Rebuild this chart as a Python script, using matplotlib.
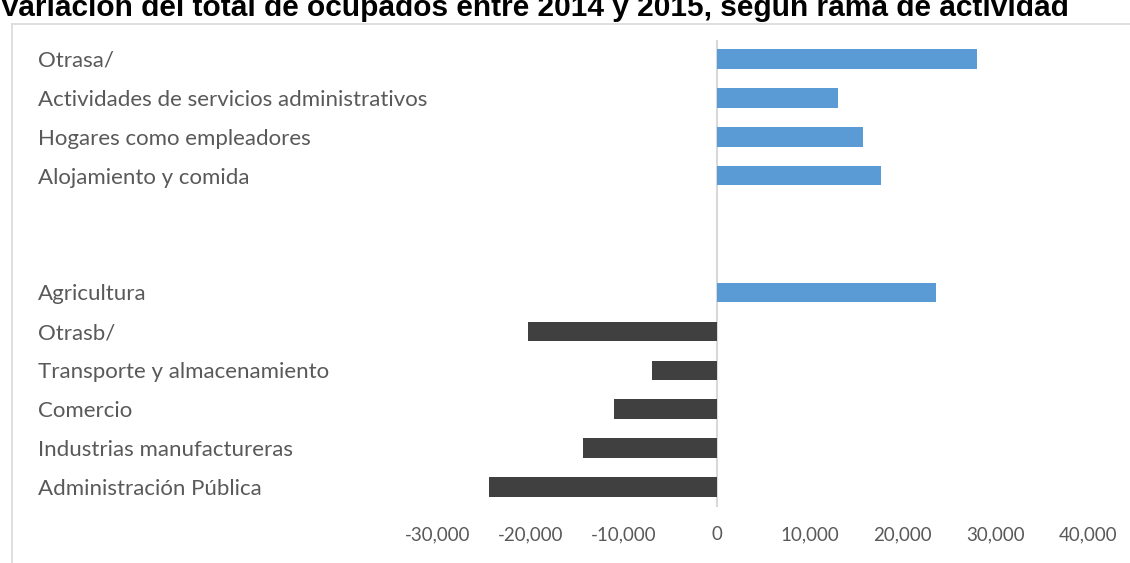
import numpy as np
import matplotlib
matplotlib.use("Agg")
import matplotlib.pyplot as plt
from matplotlib.lines import Line2D
from matplotlib.ticker import FuncFormatter

# Sectors, top to bottom (two empty rows separate the groups)
categories = [
    "Otrasa/",
    "Actividades de servicios administrativos",
    "Hogares como empleadores",
    "Alojamiento y comida",
    "",
    "",
    "Agricultura",
    "Otrasb/",
    "Transporte y almacenamiento",
    "Comercio",
    "Industrias manufactureras",
    "Administración Pública",
]
# Change in employed persons 2014-2015
gains = [28000, 13100, 15750, 17700, np.nan, np.nan, 23600, np.nan, np.nan, np.nan, np.nan, np.nan]
losses = [np.nan, np.nan, np.nan, np.nan, np.nan, np.nan, np.nan, -20300, -6950, -11000, -14350, -24450]
x_ticks = [-30000, -20000, -10000, 0, 10000, 20000, 30000, 40000]

title = "Variación del total de ocupados entre 2014 y 2015, según rama de actividad"

W, H = 1130, 563
fig = plt.figure(figsize=(W / 100, H / 100), dpi=100)
fig.patch.set_facecolor("white")

left_px, right_px, top_px, bottom_px = 437.5, 1088.5, 39.5, 506.5
ax = fig.add_axes([left_px / W, 1 - bottom_px / H,
                   (right_px - left_px) / W, (bottom_px - top_px) / H])

n = len(categories)
pos = np.arange(n)[::-1]
ax.barh(pos, np.nan_to_num(gains), height=0.5, color="#5B9BD5", zorder=2)
ax.barh(pos, np.nan_to_num(losses), height=0.5, color="#404040", zorder=2)

ax.set_xlim(x_ticks[0], x_ticks[-1])
ax.set_ylim(-0.5, n - 0.5)
ax.axvline(0, color="#D9D9D9", lw=1.5, zorder=1)

for s in ax.spines.values():
    s.set_visible(False)

text_color = "#595959"
font = "Lato"

ax.set_xticks(x_ticks)
ax.xaxis.set_major_formatter(FuncFormatter(lambda v, p: f"{int(v):,}"))
ax.tick_params(axis="x", length=0, pad=14, labelsize=13.5, labelcolor=text_color)
for lab in ax.get_xticklabels():
    lab.set_fontfamily(font)

ax.set_yticks(pos)
ax.set_yticklabels(categories)
label_pad_pt = (left_px - 38) * 72 / 100
ax.tick_params(axis="y", length=0, pad=label_pad_pt, labelsize=16, labelcolor=text_color)
for lab in ax.get_yticklabels():
    lab.set_horizontalalignment("left")
    lab.set_fontfamily(font)

# chart frame
frame_y = 1 - 24 / H
fig.add_artist(Line2D([12 / W, 12 / W], [0, frame_y], color="#D9D9D9", lw=1.2, transform=fig.transFigure))
fig.add_artist(Line2D([12 / W, 1], [frame_y, frame_y], color="#D9D9D9", lw=1.2, transform=fig.transFigure))

fig.text(0.0, 1 - 16 / H, title, ha="left", va="baseline", fontsize=21.5,
         fontweight="bold", family="Liberation Sans", color="#000000")

fig.savefig("out.png", dpi=100, facecolor="white")
